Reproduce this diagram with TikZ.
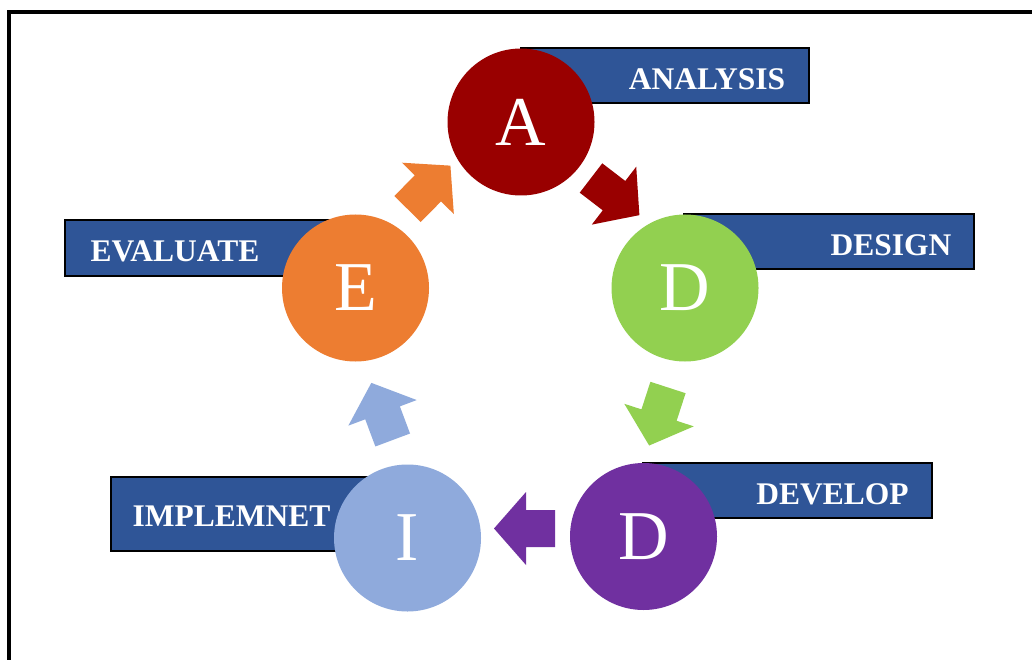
\documentclass[tikz,border=0pt]{standalone}
\usepackage{fontspec}
\setmainfont{Liberation Serif}
\definecolor{boxblue}{RGB}{47,85,151}
\definecolor{cRed}{RGB}{153,0,0}
\definecolor{cGreen}{RGB}{146,208,80}
\definecolor{cPurple}{RGB}{112,48,160}
\definecolor{cBlue}{RGB}{143,170,220}
\definecolor{cOrange}{RGB}{237,125,49}
\tikzset{
  labbox/.style={fill=boxblue, draw=black, line width=1.8pt, inner sep=0pt},
  labtxt/.style={text=white, font=\fontsize{31.5}{32}\selectfont\bfseries, anchor=base, inner sep=0pt},
  phase/.style={circle, minimum size=147pt, inner sep=0pt, text=white, font=\fontsize{70}{70}\selectfont},
}
% block arrow: tail centre #2, page angle #3, colour #1
\newcommand\blockarrow[3]{%
  \begin{scope}[shift={#2}, rotate=#3]
    \fill[#1] (0,-18.5) -- (29,-18.5) -- (29,-36.5) -- (61,0) -- (29,36.5) -- (29,18.5) -- (0,18.5) -- cycle;
  \end{scope}}
\begin{document}
\begin{tikzpicture}[x=1pt, y=-1pt]
\useasboundingbox (0,0) rectangle (1032,660);
\fill[white] (0,0) rectangle (1032,660);
% outer frame
\draw[line width=4pt] (1045,12) -- (9,12) -- (9,670);

% label bars
\node[labbox, minimum width=288pt, minimum height=55pt] (bA) at (665,75.5) {};
\node[labbox, minimum width=290pt, minimum height=55pt] (bDs) at (829,241.5) {};
\node[labbox, minimum width=289pt, minimum height=55pt] (bDv) at (787.5,490.5) {};
\node[labbox, minimum width=296pt, minimum height=74pt] (bI) at (259,514) {};
\node[labbox, minimum width=291pt, minimum height=56pt] (bE) at (210.5,248) {};

\node[labtxt] (tA) at (707,90) {ANALYSIS};
\node[labtxt] (tDs) at (891,255) {DESIGN};
\node[labtxt] (tDv) at (832.5,504) {DEVELOP};
\node[labtxt] (tI) at (231.5,526) {IMPLEMNET};
\node[labtxt] (tE) at (175,261) {EVALUATE};

% phase circles
\node[phase, fill=cRed] (A) at (521,122) {A};
\node[phase, fill=cGreen] (Ds) at (685,288) {D};
\node[phase, fill=cPurple] (Dv) at (643.5,536.5) {D};
\node[phase, fill=cBlue] (I) at (407.5,538) {I};
\node[phase, fill=cOrange] (E) at (355.5,288) {E};

% cycle arrows
\blockarrow{cOrange}{(407.5,209)}{45.3}
\blockarrow{cRed}{(591,178)}{-37.5}
\blockarrow{cGreen}{(668,387.5)}{-108}
\blockarrow{cPurple}{(555,528.5)}{180}
\blockarrow{cBlue}{(392.7,440)}{110.5}
\end{tikzpicture}
\end{document}
